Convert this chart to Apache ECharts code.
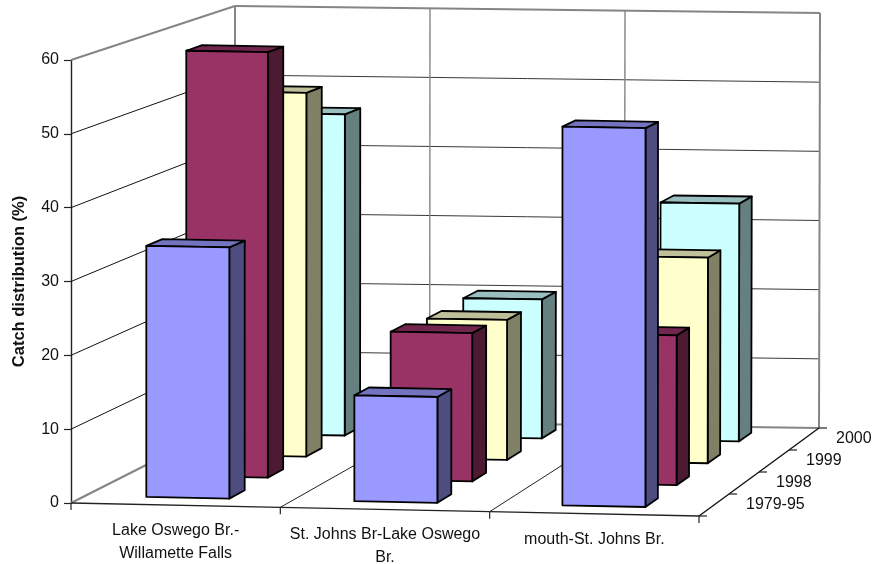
<!DOCTYPE html>
<html>
<head>
<meta charset="utf-8">
<style>html,body{margin:0;padding:0;background:#fff}#chart{width:873px;height:564px}</style>
<script src="https://cdn.jsdelivr.net/npm/echarts@6/dist/echarts.min.js"></script>
</head>
<body>
<div id="chart"></div>
<script>
// Catch distribution (%) by river reach and period
const reaches = ['Lake Oswego Br.-\nWillamette Falls', 'St. Johns Br-Lake Oswego\nBr.', 'mouth-St. Johns Br.'];
const periods = ['1979-95', '1998', '1999', '2000'];
const catch197995 = [34.2, 14.4, 51.5];
const catch1998 = [58.9, 20.5, 20.7];
const catch1999 = [51.2, 19.7, 28.9];
const catch2000 = [46.0, 19.9, 34.0];
const valueTicks = [0, 10, 20, 30, 40, 50, 60];
const faceColors = ['#9999FF', '#993366', '#FFFFCC', '#CCFFFF'];
const sideColors = ['#4D4D80', '#4D1A33', '#808066', '#668080'];
const roofColors = ['#7373BF', '#73264D', '#BFBF99', '#99BFBF'];

const periodValues = [catch197995, catch1998, catch1999, catch2000];

// Box drawn in oblique view: floor and ceiling planes given by their four corners,
// in the order front-left, front-right, back-right, back-left.
const floorQuad = [[71, 503], [699, 516], [819, 428], [235, 420]];
const ceilQuad = [[71, 60], [699, 72], [820, 13], [235, 6]];
const maxValue = 60;

function planeMap(q) {
  return (u, w) => {
    const lx = q[0][0] + (q[3][0] - q[0][0]) * w, ly = q[0][1] + (q[3][1] - q[0][1]) * w;
    const rx = q[1][0] + (q[2][0] - q[1][0]) * w, ry = q[1][1] + (q[2][1] - q[1][1]) * w;
    return [lx + (rx - lx) * u, ly + (ry - ly) * u];
  };
}
const onFloor = planeMap(floorQuad);
const onCeil = planeMap(ceilQuad);

const GRID = { left: 71, top: 60, width: 628, height: 443, outerBoundsMode: 'none' };

// The hidden x axis and the visible y axis supply the scales: api.coord turns
// a reach position and a value into fractions, which are then projected.
function project(api, xVal, depth, val) {
  const c = api.coord([xVal, val]);
  const u = (c[0] - GRID.left) / GRID.width;
  const k = (GRID.top + GRID.height - c[1]) / GRID.height;
  const f = onFloor(u, depth), t = onCeil(u, depth);
  return [f[0] + (t[0] - f[0]) * k, f[1] + (t[1] - f[1]) * k];
}

const BAR_FROM = 0.293, BAR_TO = 0.692;   // share of a reach's width
const DEPTH_FROM = 0.35, DEPTH_TO = 0.75; // share of a period's depth slot

function barRenderer(s) {
  const wf = (s + DEPTH_FROM) / periods.length, wb = (s + DEPTH_TO) / periods.length;
  return (params, api) => {
    const i = api.value(0), v = api.value(1);
    const x0 = i + BAR_FROM, x1 = i + BAR_TO;
    const p = (x, w, val) => project(api, x, w, val);
    const line = { stroke: '#000', lineWidth: 1.8, lineJoin: 'round' };
    const poly = (points, fill) => ({
      type: 'polygon', shape: { points }, style: Object.assign({ fill }, line)
    });
    return {
      type: 'group',
      children: [
        poly([p(x1, wf, 0), p(x1, wb, 0), p(x1, wb, v), p(x1, wf, v)], sideColors[s]),
        poly([p(x0, wf, v), p(x1, wf, v), p(x1, wb, v), p(x0, wb, v)], roofColors[s]),
        poly([p(x0, wf, 0), p(x1, wf, 0), p(x1, wf, v), p(x0, wf, v)], faceColors[s])
      ]
    };
  };
}

function seg(a, b, stroke, lineWidth) {
  return { type: 'line', shape: { x1: a[0], y1: a[1], x2: b[0], y2: b[1] }, style: { stroke, lineWidth } };
}

const GREY = '#858585', DARK = '#3a3a3a';

// Horizontal rules on the left and back walls
function wallRenderer(params, api) {
  const v = api.value(0);
  const n = reaches.length;
  const frame = v === 0 || v === maxValue;
  const col = frame ? GREY : DARK, lw = frame ? 2 : 1;
  return { type: 'group', children: [
    seg(project(api, 0, 0, v), project(api, 0, 1, v), frame ? GREY : '#111', lw),
    seg(project(api, 0, 1, v), project(api, n, 1, v), col, lw)
  ] };
}

// Reach boundaries: back-wall uprights, floor rules and front ticks
function boundaryRenderer(params, api) {
  const i = api.value(0);
  const n = reaches.length;
  const kids = [seg(project(api, i, 1, 0), project(api, i, 1, maxValue), GREY, i === 0 || i === n ? 2 : 1.4)];
  if (i > 0 && i < n) kids.push(seg(project(api, i, 0, 0), project(api, i, 1, 0), '#222', 1));
  const f = project(api, i, 0, 0);
  kids.push(seg(f, [f[0], f[1] + 7], '#222', 1.2));
  if (i < n) kids.push(seg(f, project(api, i + 1, 0, 0), '#222', 1.4));
  return { type: 'group', children: kids };
}

// Depth axis along the right-hand floor edge, with its ticks
function depthRenderer(params, api) {
  const s = api.value(0);
  const n = reaches.length, m = periods.length;
  const a = project(api, n, s / m, 0);
  const kids = [seg(a, [a[0] + 8, a[1]], '#222', 1.2)];
  if (s < m) kids.push(seg(a, project(api, n, (s + 1) / m, 0), '#111', 1.4));
  return { type: 'group', children: kids };
}

const labelFont = '16px "Liberation Sans", Arial, sans-serif';

function reachLabelRenderer(params, api) {
  const i = api.value(0);
  const f = project(api, i + 0.5, 0, 0);
  return {
    type: 'text',
    style: {
      x: f[0], y: f[1] + 14, text: reaches[i], font: labelFont, fill: '#111',
      align: 'center', verticalAlign: 'top', lineHeight: 23
    }
  };
}

function periodLabelRenderer(params, api) {
  const s = api.value(0);
  const f = project(api, reaches.length, (s + 0.5) / periods.length, 0);
  return {
    type: 'text',
    style: {
      x: f[0] + 32, y: f[1], text: periods[s], font: labelFont, fill: '#111',
      align: 'left', verticalAlign: 'middle'
    }
  };
}

const structural = (data, renderItem, z) => ({
  type: 'custom', data, renderItem, clip: false, silent: true, z,
  encode: { x: 0, y: -1 }
});

const series = [
  structural(valueTicks.map(v => [v]), wallRenderer, 1),
  structural(reaches.map((_, i) => [i]).concat([[reaches.length]]), boundaryRenderer, 1),
  structural(periods.map((_, s) => [s]).concat([[periods.length]]), depthRenderer, 1),
  structural(reaches.map((_, i) => [i]), reachLabelRenderer, 1),
  structural(periods.map((_, s) => [s]), periodLabelRenderer, 1)
];

// Farthest period first, so nearer columns cover the ones behind them
for (let s = periods.length - 1; s >= 0; s--) {
  series.push({
    type: 'custom',
    name: periods[s],
    data: periodValues[s].map((v, i) => [i, v]),
    renderItem: barRenderer(s),
    clip: false,
    z: 10 + periods.length - s,
    encode: { x: 0, y: 1 }
  });
}

const chart = echarts.init(document.getElementById('chart'), null, { renderer: 'canvas' });
chart.setOption({
  animation: false,
  backgroundColor: '#fff',
  grid: GRID,
  xAxis: { type: 'value', min: 0, max: reaches.length, show: false },
  yAxis: {
    type: 'value', min: 0, max: maxValue, interval: 10,
    name: 'Catch distribution (%)', nameLocation: 'middle', nameGap: 43, nameRotate: 90,
    nameTextStyle: { fontFamily: '"Liberation Sans", Arial, sans-serif', fontWeight: 'bold', fontSize: 16.5, color: '#111' },
    axisLine: { show: true, lineStyle: { color: '#222', width: 1.4 } },
    axisTick: { show: true, length: 7, lineStyle: { color: '#222', width: 1.2 } },
    axisLabel: { fontFamily: '"Liberation Sans", Arial, sans-serif', fontSize: 16, color: '#111', margin: 12 },
    splitLine: { show: false }
  },
  series
});
</script>
</body>
</html>
